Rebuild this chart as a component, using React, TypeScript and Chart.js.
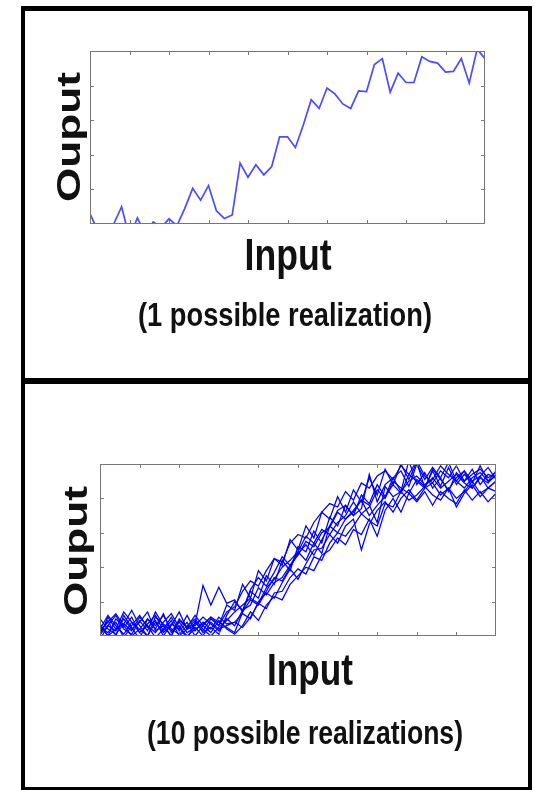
import React, { useEffect, useRef } from "react";
import { Chart, registerables } from "chart.js";

Chart.register(...registerables);

// ---------- text ----------
const Y_LABEL = "Ouput";
const X_LABEL = "Input";
const TOP_NOTE = "(1 possible realization)";
const BOTTOM_NOTE = "(10 possible realizations)";

// ---------- axes ----------
const X_MAX = 50;
const Y_MAX = 5;
const X_TICKS = [5, 10, 15, 20, 25, 30, 35, 40, 45];
const Y_TICKS = [1, 2, 3, 4];

// ---------- data ----------
const TOP_OUTPUT = [
  0.3, -0.2, -0.1, 0.0, 0.5, -0.4, 0.18, -0.3, 0.06, -0.1, 0.15, -0.05, 0.45,
  1.03, 0.69, 1.11, 0.38, 0.16, 0.26, 1.76, 1.35, 1.71, 1.42, 1.66, 2.52, 2.52,
  2.21, 2.86, 3.59, 3.34, 3.93, 3.76, 3.47, 3.34, 3.85, 3.83, 4.61, 4.78, 3.81,
  4.36, 4.09, 4.09, 4.83, 4.7, 4.65, 4.39, 4.41, 4.78, 4.07, 5.05, 4.78,
];

const RUN_1 = [0.1, 0.45, 0.0, 0.6, 0.25, -0.1, 0.5, 0.2, 0.65, 0.1, 0.3, -0.1, 0.4, 0.15, 0.5, 0.3, 0.9, 0.75, 1.5, 1.1, 1.9, 1.6, 2.25, 2.05, 2.8, 2.5, 3.2, 2.85, 3.6, 3.4, 4.05, 3.6, 4.25, 3.9, 4.6, 4.1, 4.85, 4.4, 5.0, 4.55, 5.05, 4.3, 4.8, 4.35, 4.9, 4.4, 4.7, 4.45, 4.95, 4.5, 4.8];
const RUN_2 = [-0.1, 0.3, 0.6, 0.2, 0.05, 0.45, 0.15, 0.7, 0.3, 0.0, 0.5, 0.25, 0.35, 1.47, 0.9, 1.42, 0.95, 1.05, 0.7, 1.3, 1.1, 1.75, 1.5, 2.2, 1.9, 2.6, 2.45, 3.05, 2.7, 3.45, 3.2, 3.8, 3.5, 3.7, 4.7, 3.9, 4.4, 4.6, 4.2, 5.1, 4.4, 4.75, 4.3, 4.6, 5.05, 4.5, 4.8, 4.3, 4.65, 4.9, 4.55];
const RUN_3 = [0.35, 0.0, 0.2, 0.7, 0.4, 0.1, 0.3, -0.05, 0.2, 0.55, 0.15, 0.4, 0.0, 0.3, 0.1, 0.45, 0.2, 0.05, 0.3, 0.7, 0.45, 0.9, 1.15, 1.05, 1.5, 1.75, 2.0, 1.9, 2.35, 2.5, 2.85, 2.65, 3.1, 2.95, 3.4, 2.9, 3.65, 4.0, 3.6, 4.15, 3.9, 4.2, 3.8, 4.2, 4.0, 3.85, 4.25, 3.95, 4.2, 3.9, 4.15];
const RUN_4 = [0.0, 0.55, 0.2, 0.35, 0.75, 0.3, 0.0, 0.4, 0.1, 0.3, 0.7, 0.2, 0.45, 0.1, 0.25, 0.05, 0.6, 1.0, 0.75, 1.35, 1.7, 1.45, 1.85, 2.3, 2.05, 2.45, 2.9, 2.7, 2.4, 3.2, 3.65, 3.8, 3.5, 4.1, 3.85, 4.4, 4.05, 4.6, 4.8, 4.35, 5.0, 4.55, 4.9, 4.6, 4.2, 4.75, 4.5, 4.85, 4.4, 4.7, 4.6];
const RUN_5 = [0.25, 0.1, 0.4, -0.05, 0.3, 0.6, 0.25, 0.45, 0.0, 0.35, 0.2, 0.6, 0.15, 0.4, 0.2, 0.55, 0.35, 0.4, 0.65, 0.5, 1.0, 1.25, 1.1, 1.55, 1.95, 1.65, 2.1, 2.5, 2.55, 2.95, 2.7, 3.2, 3.4, 2.5, 3.25, 3.65, 3.9, 3.6, 4.0, 4.25, 3.95, 4.3, 4.45, 4.1, 4.3, 3.75, 4.15, 4.4, 4.05, 4.3, 4.2];
const RUN_6 = [0.5, 0.2, 0.05, 0.35, 0.15, 0.55, 0.3, 0.1, 0.4, 0.65, 0.25, 0.0, 0.2, 0.35, 0.55, 0.3, 0.7, 0.85, 1.3, 1.6, 1.45, 1.9, 2.25, 2.15, 2.7, 2.95, 2.85, 3.3, 3.6, 3.85, 3.75, 4.2, 3.95, 4.45, 4.3, 4.65, 4.8, 4.55, 4.95, 4.7, 5.1, 4.65, 4.45, 4.8, 4.6, 4.95, 4.5, 4.7, 4.85, 4.6, 4.75];
const RUN_7 = [0.15, 0.4, 0.65, 0.3, 0.0, 0.2, 0.5, 0.3, 0.6, 0.2, 0.05, 0.3, 0.5, 0.2, 0.0, 0.25, 0.45, 0.7, 0.9, 1.1, 0.95, 1.4, 1.65, 2.0, 2.2, 2.45, 2.2, 2.7, 3.1, 2.95, 3.3, 3.5, 3.9, 3.55, 3.75, 4.25, 4.0, 4.5, 4.3, 4.15, 4.55, 4.35, 4.6, 4.3, 4.5, 4.7, 4.45, 4.3, 4.6, 4.45, 4.7];
const RUN_8 = [0.3, 0.0, 0.5, 0.25, 0.55, 0.1, 0.35, 0.6, 0.15, 0.45, 0.0, 0.2, 0.3, 0.55, 0.35, 0.15, 0.5, 0.3, 0.75, 0.9, 1.4, 1.2, 1.55, 1.7, 2.05, 2.35, 2.75, 2.6, 3.0, 3.15, 3.6, 3.4, 3.65, 3.95, 3.5, 3.8, 4.05, 4.4, 4.15, 4.7, 4.5, 4.3, 4.85, 4.55, 4.25, 4.6, 4.8, 4.5, 4.65, 4.3, 4.5];
const RUN_9 = [0.2, 0.6, 0.3, 0.05, 0.4, 0.2, 0.0, 0.55, 0.35, 0.15, 0.4, 0.1, 0.25, 0.0, 0.4, 0.2, 0.3, 0.4, 0.25, 0.55, 0.95, 0.8, 1.25, 1.3, 1.7, 1.95, 1.8, 2.3, 2.2, 2.7, 3.0, 2.9, 3.2, 3.55, 3.35, 3.2, 3.85, 3.75, 4.2, 3.95, 4.1, 4.35, 4.1, 3.95, 4.3, 4.0, 4.2, 4.5, 4.15, 4.3, 4.5];
const RUN_10 = [0.05, 0.3, 0.15, 0.5, 0.2, 0.4, 0.7, 0.15, 0.3, 0.0, 0.45, 0.25, 0.6, 0.3, 0.55, 0.4, 0.25, 0.1, 0.7, 1.05, 0.9, 1.3, 1.7, 1.6, 2.0, 2.4, 2.65, 2.35, 2.8, 3.2, 3.0, 3.4, 3.6, 3.95, 3.8, 3.3, 4.35, 4.05, 4.2, 4.5, 4.65, 4.4, 4.55, 4.95, 4.7, 4.5, 4.3, 4.6, 4.75, 4.5, 4.65];

const RUNS = [RUN_1, RUN_2, RUN_3, RUN_4, RUN_5, RUN_6, RUN_7, RUN_8, RUN_9, RUN_10];

// ---------- drawing helpers ----------
type TextSpec = {
  text: string;
  x: number;
  y: number;
  size: number;
  width: number;
  stretch: number;
  vertical?: boolean;
};

const FONT_FAMILY = '"Liberation Sans", Arial, Helvetica, sans-serif';
const TICK_LEN = 4;

function toPoints(values: number[]) {
  return values.map((v, i) => ({ x: i, y: v }));
}

function makeFramePlugin(texts: TextSpec[]) {
  return {
    id: "matlabFrame",
    afterDatasetsDraw(chart: any) {
      const { ctx, chartArea: a, scales } = chart;
      const xs = scales.x;
      const ys = scales.y;
      ctx.save();
      ctx.strokeStyle = "#767676";
      ctx.lineWidth = 1;
      ctx.strokeRect(a.left + 0.5, a.top + 0.5, a.right - a.left - 1, a.bottom - a.top - 1);
      ctx.beginPath();
      X_TICKS.forEach((v) => {
        const px = Math.round(xs.getPixelForValue(v)) + 0.5;
        ctx.moveTo(px, a.top);
        ctx.lineTo(px, a.top + TICK_LEN);
        ctx.moveTo(px, a.bottom);
        ctx.lineTo(px, a.bottom - TICK_LEN);
      });
      Y_TICKS.forEach((v) => {
        const py = Math.round(ys.getPixelForValue(v)) + 0.5;
        ctx.moveTo(a.left, py);
        ctx.lineTo(a.left + TICK_LEN, py);
        ctx.moveTo(a.right, py);
        ctx.lineTo(a.right - TICK_LEN, py);
      });
      ctx.stroke();

      texts.forEach((t) => {
        ctx.save();
        ctx.font = `bold ${t.size}px ${FONT_FAMILY}`;
        const natural = ctx.measureText(t.text).width;
        const sx = t.width / natural;
        ctx.translate(t.x, t.y);
        if (t.vertical) ctx.rotate(-Math.PI / 2);
        ctx.scale(sx, t.stretch);
        ctx.fillStyle = "#111";
        ctx.textAlign = "center";
        ctx.textBaseline = "alphabetic";
        ctx.fillText(t.text, 0, 0);
        ctx.restore();
      });
      ctx.restore();
    },
  };
}

type PanelProps = {
  left: number;
  top: number;
  width: number;
  height: number;
  padding: { left: number; right: number; top: number; bottom: number };
  datasets: any[];
  texts: TextSpec[];
};

function Panel({ left, top, width, height, padding, datasets, texts }: PanelProps) {
  const ref = useRef<HTMLCanvasElement | null>(null);
  useEffect(() => {
    if (!ref.current) return;
    const chart = new Chart(ref.current, {
      type: "line",
      data: { datasets },
      options: {
        responsive: false,
        animation: false,
        devicePixelRatio: 1,
        layout: { padding },
        plugins: { legend: { display: false }, tooltip: { enabled: false } },
        elements: { point: { radius: 0 }, line: { tension: 0 } },
        scales: {
          x: { type: "linear", min: 0, max: X_MAX, display: false },
          y: { type: "linear", min: 0, max: Y_MAX, display: false },
        },
      },
      plugins: [makeFramePlugin(texts)],
    });
    return () => chart.destroy();
  }, []);
  return (
    <canvas
      ref={ref}
      width={width}
      height={height}
      style={{ position: "absolute", left, top, width, height }}
    />
  );
}

const BAR = "#000";

export default function App() {
  const topDatasets = [
    {
      data: toPoints(TOP_OUTPUT),
      borderColor: "rgb(76,76,255)",
      borderWidth: 1.7,
      clip: 0,
      fill: false,
    },
  ];
  const bottomDatasets = RUNS.map((r) => ({
    data: toPoints(r),
    borderColor: "rgb(0,0,255)",
    borderWidth: 1.25,
    clip: 0,
    fill: false,
  }));

  // canvas origins: top (25, 11), bottom (25, 384)
  const topTexts: TextSpec[] = [
    { text: Y_LABEL, x: 55, y: 126, size: 33, width: 130, stretch: 1, vertical: true },
    { text: X_LABEL, x: 263, y: 259, size: 35, width: 87, stretch: 1.25 },
    { text: TOP_NOTE, x: 260, y: 315, size: 27, width: 294, stretch: 1.2 },
  ];
  const bottomTexts: TextSpec[] = [
    { text: Y_LABEL, x: 62, y: 167, size: 33, width: 130, stretch: 1, vertical: true },
    { text: X_LABEL, x: 285, y: 301, size: 35, width: 86, stretch: 1.25 },
    { text: BOTTOM_NOTE, x: 280, y: 360, size: 27, width: 316, stretch: 1.2 },
  ];

  return (
    <div style={{ position: "absolute", left: 0, top: 0, width: 535, height: 790, background: "#fff", overflow: "hidden" }}>
      <Panel
        left={25}
        top={11}
        width={503}
        height={367}
        padding={{ left: 65, right: 43, top: 40, bottom: 154 }}
        datasets={topDatasets}
        texts={topTexts}
      />
      <Panel
        left={25}
        top={384}
        width={503}
        height={403}
        padding={{ left: 75, right: 32, top: 80, bottom: 151 }}
        datasets={bottomDatasets}
        texts={bottomTexts}
      />
      <div style={{ position: "absolute", left: 21, top: 6, width: 511, height: 5, background: BAR }} />
      <div style={{ position: "absolute", left: 21, top: 6, width: 4, height: 784, background: BAR }} />
      <div style={{ position: "absolute", left: 528, top: 6, width: 4, height: 784, background: BAR }} />
      <div style={{ position: "absolute", left: 21, top: 378, width: 511, height: 6, background: BAR }} />
      <div style={{ position: "absolute", left: 21, top: 787, width: 511, height: 3, background: BAR }} />
    </div>
  );
}
